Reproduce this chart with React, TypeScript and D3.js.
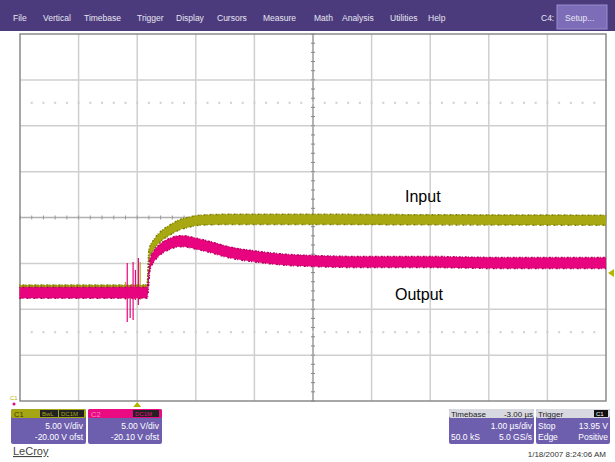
import { scaleLinear, area, line, curveMonotoneX, range } from "d3";

// scope settings
const timePerDiv = 1.0; // µs/div
const voltsPerDiv = 5.0;
const c1Offset = -20.0;
const c2Offset = -20.1;
const trigLevel = 13.95;

// traces: [time µs, volts] centre of the noisy band
const inputTrace: [number, number][] = [
  [-2.01, 12.1], [-0.31, 12.1], [0.12, 12.1], [0.17, 12.2], [0.2, 15.9],
  [0.29, 17.1], [0.38, 17.8], [0.55, 18.6], [0.72, 19.2], [0.89, 19.5],
  [1.06, 19.7], [1.57, 19.8], [3.0, 19.8], [5.0, 19.75], [8.0, 19.7],
];
const outputTrace: [number, number][] = [
  [-2.01, 11.9], [-0.31, 11.9], [0.12, 11.9], [0.17, 11.9], [0.22, 15.0],
  [0.29, 15.9], [0.38, 16.55], [0.55, 17.2], [0.72, 17.5], [0.8, 17.5],
  [0.97, 17.3], [1.23, 16.9], [1.57, 16.3], [2.08, 15.8], [2.59, 15.47],
  [2.99, 15.36], [3.79, 15.25], [4.98, 15.25], [6.18, 15.14], [8.0, 15.14],
];
const inputNoise = 0.55;
const outputNoise = 0.6;

// switching spikes around the trigger: [time, low V, high V]
const outputSpikes: [number, number, number][] = [
  [-0.17, 8.71, 15.14], [-0.12, 9.15, 12.74], [-0.07, 8.93, 15.25],
  [-0.03, 11.11, 14.38], [0.02, 10.56, 15.69],
];
const inputSpikes: [number, number, number][] = [
  [-0.2, 11.0, 12.97], [0.05, 11.0, 15.15],
];

const menuItems = ["File", "Vertical", "Timebase", "Trigger", "Display", "Cursors", "Measure", "Math", "Analysis", "Utilities", "Help"];
const menuX = [13, 43, 84, 137, 176, 217, 263, 314, 342, 390, 428];

const W = 615;
const H = 462;
const gx0 = 20, gx1 = 606, gy0 = 34, gy1 = 401;
const FONT = "Liberation Sans, Arial, sans-serif";
const YEL = "#a8a812";
const YEL_D = "#7f7f00";
const PNK = "#e8037f";
const PNK_D = "#b8005f";
const PURPLE = "#4b3b7c";
const PANEL = "#6e5fae";

export default function App() {
  // trigger sits 2 divisions in from the left (delay -3 µs)
  const x = scaleLinear().domain([-2 * timePerDiv, 8 * timePerDiv]).range([gx0, gx1]);
  const y1 = scaleLinear().domain([-c1Offset - 4 * voltsPerDiv, -c1Offset + 4 * voltsPerDiv]).range([gy1, gy0]);
  const y2 = scaleLinear().domain([-c2Offset - 4 * voltsPerDiv, -c2Offset + 4 * voltsPerDiv]).range([gy1, gy0]);

  const band = (ys: typeof y1, n: number) =>
    area<[number, number]>()
      .x((d) => x(d[0]))
      .y0((d) => ys(d[1] - n))
      .y1((d) => ys(d[1] + n))
      .curve(curveMonotoneX);
  const edge = (ys: typeof y1, n: number) =>
    line<[number, number]>().x((d) => x(d[0])).y((d) => ys(d[1] + n)).curve(curveMonotoneX);

  const dx = (gx1 - gx0) / 10;
  const dy = (gy1 - gy0) / 8;
  const cx = gx0 + 5 * dx;
  const cy = gy0 + 4 * dy;

  return (
    <svg width={W} height={H} style={{ position: "absolute", left: 0, top: 0, background: "#fff" }} fontFamily={FONT}>
      <rect width={W} height={H} fill="#fff" />
      {/* menu bar */}
      <rect x={0} y={0} width={W} height={31} fill={PURPLE} />
      {menuItems.map((m, i) => (
        <text key={m} x={menuX[i]} y={21} fontSize={8.5} fill="#e8e6f2">{m}</text>
      ))}
      <text x={541} y={21} fontSize={8.5} fill="#e8e6f2">C4:</text>
      <rect x={557} y={5} width={50} height={24} fill="#7d6db8" stroke="#9a8cd0" />
      <text x={565} y={21} fontSize={8.5} fill="#e8e6f2">Setup...</text>

      {/* graticule */}
      {range(1, 10).map((i) => (
        <line key={"v" + i} x1={gx0 + i * dx} x2={gx0 + i * dx} y1={gy0} y2={gy1}
          stroke={i === 5 ? "#9a9a9a" : "#cfcfcf"} strokeWidth={1.5} />
      ))}
      {range(1, 8).map((i) => (
        <line key={"h" + i} x1={gx0} x2={gx1} y1={gy0 + i * dy} y2={gy0 + i * dy}
          stroke={i === 4 ? "#b0b0b0" : "#cfcfcf"} strokeWidth={1.5} />
      ))}
      {range(0, 41).map((i) => (
        <line key={"hc" + i} x1={cx - 2} x2={cx + 2} y1={gy0 + (i * dy) / 5} y2={gy0 + (i * dy) / 5} stroke="#888" strokeWidth={1} />
      ))}
      {range(0, 51).map((i) => (
        <line key={"vc" + i} x1={gx0 + (i * dx) / 5} x2={gx0 + (i * dx) / 5} y1={cy - 2} y2={cy + 2} stroke="#999" strokeWidth={1} />
      ))}
      {[1.5, 6.5].map((r) =>
        range(1, 50).map((i) => (
          <rect key={"d" + r + i} x={gx0 + (i * dx) / 5 - 1} y={gy0 + r * dy - 1} width={2} height={2} fill="#cfcfcf" />
        ))
      )}
      <rect x={gx0} y={gy0} width={gx1 - gx0} height={gy1 - gy0} fill="none" stroke="#8a8a8a" strokeWidth={1.5} />

      {/* traces */}
      <path d={band(y1, inputNoise)(inputTrace) ?? ""} fill={YEL} />
      <path d={edge(y1, inputNoise)(inputTrace) ?? ""} fill="none" stroke={YEL_D} strokeWidth={1.5} strokeDasharray="1 2 2 1" />
      <path d={edge(y1, -inputNoise)(inputTrace) ?? ""} fill="none" stroke={YEL_D} strokeWidth={1.5} strokeDasharray="2 1 1 3" />
      {inputSpikes.map(([t, lo, hi], i) => (
        <line key={"is" + i} x1={x(t)} x2={x(t)} y1={y1(lo)} y2={y1(hi)} stroke={YEL} strokeWidth={1.2} />
      ))}
      <path d={band(y2, outputNoise)(outputTrace) ?? ""} fill={PNK} />
      <path d={edge(y2, outputNoise)(outputTrace) ?? ""} fill="none" stroke={PNK_D} strokeWidth={1.5} strokeDasharray="1 2 2 1" />
      <path d={edge(y2, -outputNoise)(outputTrace) ?? ""} fill="none" stroke={PNK_D} strokeWidth={1.5} strokeDasharray="2 1 1 3" />
      {outputSpikes.map(([t, lo, hi], i) => (
        <line key={"os" + i} x1={x(t)} x2={x(t)} y1={y2(lo)} y2={y2(hi)} stroke={PNK} strokeWidth={1.2} />
      ))}

      {/* markers */}
      <path d={`M${x(0) - 4},${gy1 + 6}L${x(0) + 4},${gy1 + 6}L${x(0)},${gy1 + 1}Z`} fill="#b5b500" />
      <path d={`M${gx1 + 8},${y1(trigLevel) - 4}L${gx1 + 8},${y1(trigLevel) + 4}L${gx1 + 2},${y1(trigLevel)}Z`} fill="#b5b500" />
      <text x={10} y={y1(0) - 1} fontSize={6} fill="#b5b500">C1</text>
      <circle cx={14} cy={y2(0) + 2} r={1.5} fill={PNK} />

      {/* annotations */}
      <text x={405} y={202} fontSize={16} fill="#000">Input</text>
      <text x={395} y={300} fontSize={16} fill="#000">Output</text>

      {/* channel panels */}
      <rect x={11} y={409} width={75} height={35} rx={2} fill={PANEL} />
      <rect x={11} y={409} width={75} height={9} rx={2} fill="#a6a614" />
      <text x={14} y={417} fontSize={7.5} fill="#3a3a00">C1</text>
      <rect x={40} y={410} width={18} height={7} fill="#222" />
      <text x={42} y={416} fontSize={6} fill="#a6a614">BwL</text>
      <rect x={59} y={410} width={25} height={7} fill="#222" />
      <text x={61} y={416} fontSize={6} fill="#a6a614">DC1M</text>
      <text x={83} y={429} fontSize={8.5} fill="#fff" textAnchor="end">5.00 V/div</text>
      <text x={83} y={440} fontSize={8.5} fill="#fff" textAnchor="end">-20.00 V ofst</text>

      <rect x={88} y={409} width={74} height={35} rx={2} fill={PANEL} />
      <rect x={88} y={409} width={74} height={9} rx={2} fill="#ea0a82" />
      <text x={91} y={417} fontSize={7.5} fill="#ff8cc8">C2</text>
      <rect x={133} y={410} width={26} height={7} fill="#222" />
      <text x={135} y={416} fontSize={6} fill="#ea0a82">DC1M</text>
      <text x={159} y={429} fontSize={8.5} fill="#fff" textAnchor="end">5.00 V/div</text>
      <text x={159} y={440} fontSize={8.5} fill="#fff" textAnchor="end">-20.10 V ofst</text>

      <text x={13} y={455} fontSize={11} fill="#444" textDecoration="underline">LeCroy</text>

      {/* timebase / trigger panels */}
      <rect x={449} y={409} width={85} height={35} rx={2} fill={PANEL} />
      <rect x={449} y={409} width={85} height={9} rx={2} fill="#d8d8e0" />
      <text x={451} y={417} fontSize={8} fill="#222">Timebase</text>
      <text x={533} y={417} fontSize={8} fill="#222" textAnchor="end">-3.00 µs</text>
      <text x={532} y={429} fontSize={8.5} fill="#fff" textAnchor="end">1.00 µs/div</text>
      <text x={451} y={440} fontSize={8.5} fill="#fff">50.0 kS</text>
      <text x={532} y={440} fontSize={8.5} fill="#fff" textAnchor="end">5.0 GS/s</text>

      <rect x={536} y={409} width={74} height={35} rx={2} fill={PANEL} />
      <rect x={536} y={409} width={74} height={9} rx={2} fill="#d8d8e0" />
      <text x={538} y={417} fontSize={8} fill="#222">Trigger</text>
      <rect x={594} y={410} width={14} height={7} fill="#111" />
      <text x={596} y={416} fontSize={6} fill="#fff">C1</text>
      <text x={538} y={429} fontSize={8.5} fill="#fff">Stop</text>
      <text x={608} y={429} fontSize={8.5} fill="#fff" textAnchor="end">13.95 V</text>
      <text x={538} y={440} fontSize={8.5} fill="#fff">Edge</text>
      <text x={608} y={440} fontSize={8.5} fill="#fff" textAnchor="end">Positive</text>

      <text x={606} y={457} fontSize={8} fill="#333" textAnchor="end">1/18/2007 8:24:06 AM</text>
    </svg>
  );
}
